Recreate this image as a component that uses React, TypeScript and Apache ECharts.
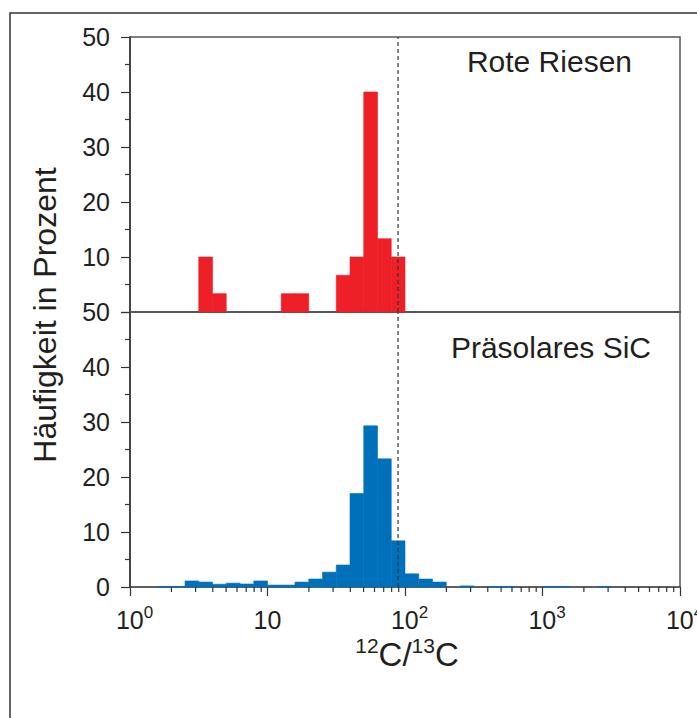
import React, { useEffect, useRef } from "react";
import * as echarts from "echarts";

// Histogram bins: lower edge in log10(12C/13C), each bin is 0.1 decade wide
const BIN_WIDTH_LOG = 0.1;

const redGiantBinLo = [0.5, 0.6, 1.1, 1.2, 1.5, 1.6, 1.7, 1.8, 1.9];
const redGiantPct = [10, 3.33, 3.33, 3.33, 6.67, 10, 40, 13.33, 10];

const sicBinLo = [
  0.2, 0.3, 0.4, 0.5, 0.6, 0.7, 0.8, 0.9, 1.0, 1.1, 1.2, 1.3, 1.4, 1.5, 1.6,
  1.7, 1.8, 1.9, 2.0, 2.1, 2.2, 2.4, 2.6, 2.7, 3.0, 3.1, 3.4,
];
const sicPct = [
  0.1, 0.1, 1.1, 0.9, 0.5, 0.7, 0.55, 1.1, 0.35, 0.35, 0.9, 1.45, 2.7, 4.0,
  17.0, 29.3, 23.3, 8.4, 2.4, 1.45, 0.9, 0.2, 0.1, 0.1, 0.1, 0.1, 0.1,
];

// Solar ratio reference line
const solarRatio = 89;

const yTicks = [0, 10, 20, 30, 40, 50];
const xDecades = [1, 10, 100, 1000, 10000];
const panelTitles = ["Rote Riesen", "Präsolares SiC"];

const FONT = "'Liberation Sans', Arial, Helvetica, sans-serif";
const INK = "#231f20";

function binData(lo: number[], pct: number[]) {
  return lo.map((l, i) => [Math.pow(10, l), Math.pow(10, l + BIN_WIDTH_LOG), pct[i]]);
}

function minorTickValues() {
  const out: number[][] = [];
  for (let d = 0; d < xDecades.length - 1; d++) {
    for (let m = 2; m <= 9; m++) out.push([m * xDecades[d]]);
  }
  return out;
}

const barRender = (color: string) => (params: any, api: any) => {
  const p0 = api.coord([api.value(0), api.value(2)]);
  const p1 = api.coord([api.value(1), 0]);
  return {
    type: "rect",
    shape: { x: p0[0], y: p0[1], width: p1[0] - p0[0], height: p1[1] - p0[1] },
    style: { fill: color, stroke: color, lineWidth: 0.6 },
  };
};

export default function App() {
  const ref = useRef<HTMLDivElement>(null);

  useEffect(() => {
    if (!ref.current) return;
    const chart = echarts.init(ref.current, null, { renderer: "svg" });

    const gridCommon = {
      left: 130,
      right: 17,
      height: 275,
      show: true,
      borderColor: "#555",
      borderWidth: 1.5,
      backgroundColor: "transparent",
      containLabel: false,
      outerBoundsMode: "none",
    };

    const xCommon = {
      type: "log" as const,
      logBase: 10,
      min: xDecades[0],
      max: xDecades[xDecades.length - 1],
      splitLine: { show: false },
    };

    const yCommon = {
      type: "value" as const,
      min: yTicks[0],
      max: yTicks[yTicks.length - 1],
      interval: 10,
      splitLine: { show: false },
      axisLine: { show: true, lineStyle: { color: "#333", width: 1.5 } },
      axisTick: { show: true, length: 9, lineStyle: { color: "#333", width: 1.2 } },
      minorTick: { show: true, splitNumber: 2, length: 5, lineStyle: { color: "#333", width: 1.2 } },
      axisLabel: { margin: 20, fontSize: 25, fontFamily: FONT, color: INK },
    };

    const dashed = (idx: number) => ({
      type: "line",
      xAxisIndex: idx,
      yAxisIndex: idx,
      data: [
        [solarRatio, 0],
        [solarRatio, 50],
      ],
      symbol: "none",
      silent: true,
      z: 5,
      lineStyle: { color: "#333", width: 1.2, type: [4, 3] },
    });

    chart.setOption({
      animation: false,
      backgroundColor: "#fff",
      grid: [
        { ...gridCommon, top: 37 },
        { ...gridCommon, top: 312 },
      ],
      xAxis: [
        {
          ...xCommon,
          gridIndex: 0,
          axisLine: { show: true, lineStyle: { color: "#555", width: 1.5 } },
          axisTick: { show: false },
          axisLabel: { show: false },
        },
        {
          ...xCommon,
          gridIndex: 1,
          axisLine: { show: true, lineStyle: { color: "#555", width: 1.5 } },
          axisTick: { show: true, length: 9, lineStyle: { color: "#333", width: 1.2 } },
          axisLabel: {
            margin: 17,
            fontFamily: FONT,
            color: INK,
            formatter: (v: number) => {
              const e = Math.round(Math.log10(v));
              if (e === 1) return "{b|10}";
              return "{p|}{b|10}{s|" + e + "}";
            },
            rich: {
              b: { fontSize: 25, fontFamily: FONT, color: INK, lineHeight: 28, verticalAlign: "bottom" },
              s: { fontSize: 17, fontFamily: FONT, color: INK, lineHeight: 17, verticalAlign: "top" },
              p: { width: 9 },
            },
          },
        },
      ],
      yAxis: [
        {
          ...yCommon,
          gridIndex: 0,
          axisLabel: {
            ...yCommon.axisLabel,
            formatter: (v: number) => (v === 0 ? "" : String(v)),
          },
        },
        { ...yCommon, gridIndex: 1 },
      ],
      series: [
        {
          type: "custom",
          xAxisIndex: 0,
          yAxisIndex: 0,
          data: binData(redGiantBinLo, redGiantPct),
          renderItem: barRender("#ee1f26"),
          encode: { x: [0, 1], y: 2 },
          silent: true,
          z: 3,
        },
        {
          type: "custom",
          xAxisIndex: 1,
          yAxisIndex: 1,
          data: binData(sicBinLo, sicPct),
          renderItem: barRender("#0070bb"),
          encode: { x: [0, 1], y: 2 },
          silent: true,
          z: 3,
        },
        {
          // log-decade minor ticks (2..9) below the lower axis
          type: "custom",
          xAxisIndex: 1,
          yAxisIndex: 1,
          data: minorTickValues(),
          encode: { x: 0 },
          silent: true,
          z: 6,
          renderItem: (params: any, api: any) => {
            const p = api.coord([api.value(0), 0]);
            return {
              type: "line",
              shape: { x1: p[0], y1: p[1], x2: p[0], y2: p[1] + 5 },
              style: { stroke: "#333", lineWidth: 1.2 },
            };
          },
        },
        dashed(0),
        dashed(1),
      ],
      graphic: [
        {
          type: "polyline",
          shape: { points: [[697, 13], [10, 13], [10, 718]] },
          style: { stroke: "#333", lineWidth: 1.5, fill: "none" },
          silent: true,
        },
        {
          type: "text",
          x: 632,
          y: 61,
          style: { text: panelTitles[0], font: `30px ${FONT}`, fill: INK, align: "right", verticalAlign: "middle" },
        },
        {
          type: "text",
          x: 651,
          y: 347,
          style: { text: panelTitles[1], font: `30px ${FONT}`, fill: INK, align: "right", verticalAlign: "middle" },
        },
        {
          type: "text",
          x: 45,
          y: 315,
          rotation: Math.PI / 2,
          style: { text: "Häufigkeit in Prozent", font: `32px ${FONT}`, fill: INK, align: "center", verticalAlign: "middle" },
        },
        {
          type: "text",
          x: 407,
          y: 653,
          style: {
            text: "{s|12}{b|C/}{s|13}{b|C}",
            align: "center",
            verticalAlign: "middle",
            rich: {
              b: { fontSize: 33, fontFamily: FONT, fill: INK, lineHeight: 36, verticalAlign: "bottom" },
              s: { fontSize: 21, fontFamily: FONT, fill: INK, lineHeight: 21, verticalAlign: "top" },
            },
          },
        },
      ],
    });

    return () => chart.dispose();
  }, []);

  return (
    <div
      ref={ref}
      style={{ position: "absolute", left: 0, top: 0, width: 697, height: 718 }}
    />
  );
}
